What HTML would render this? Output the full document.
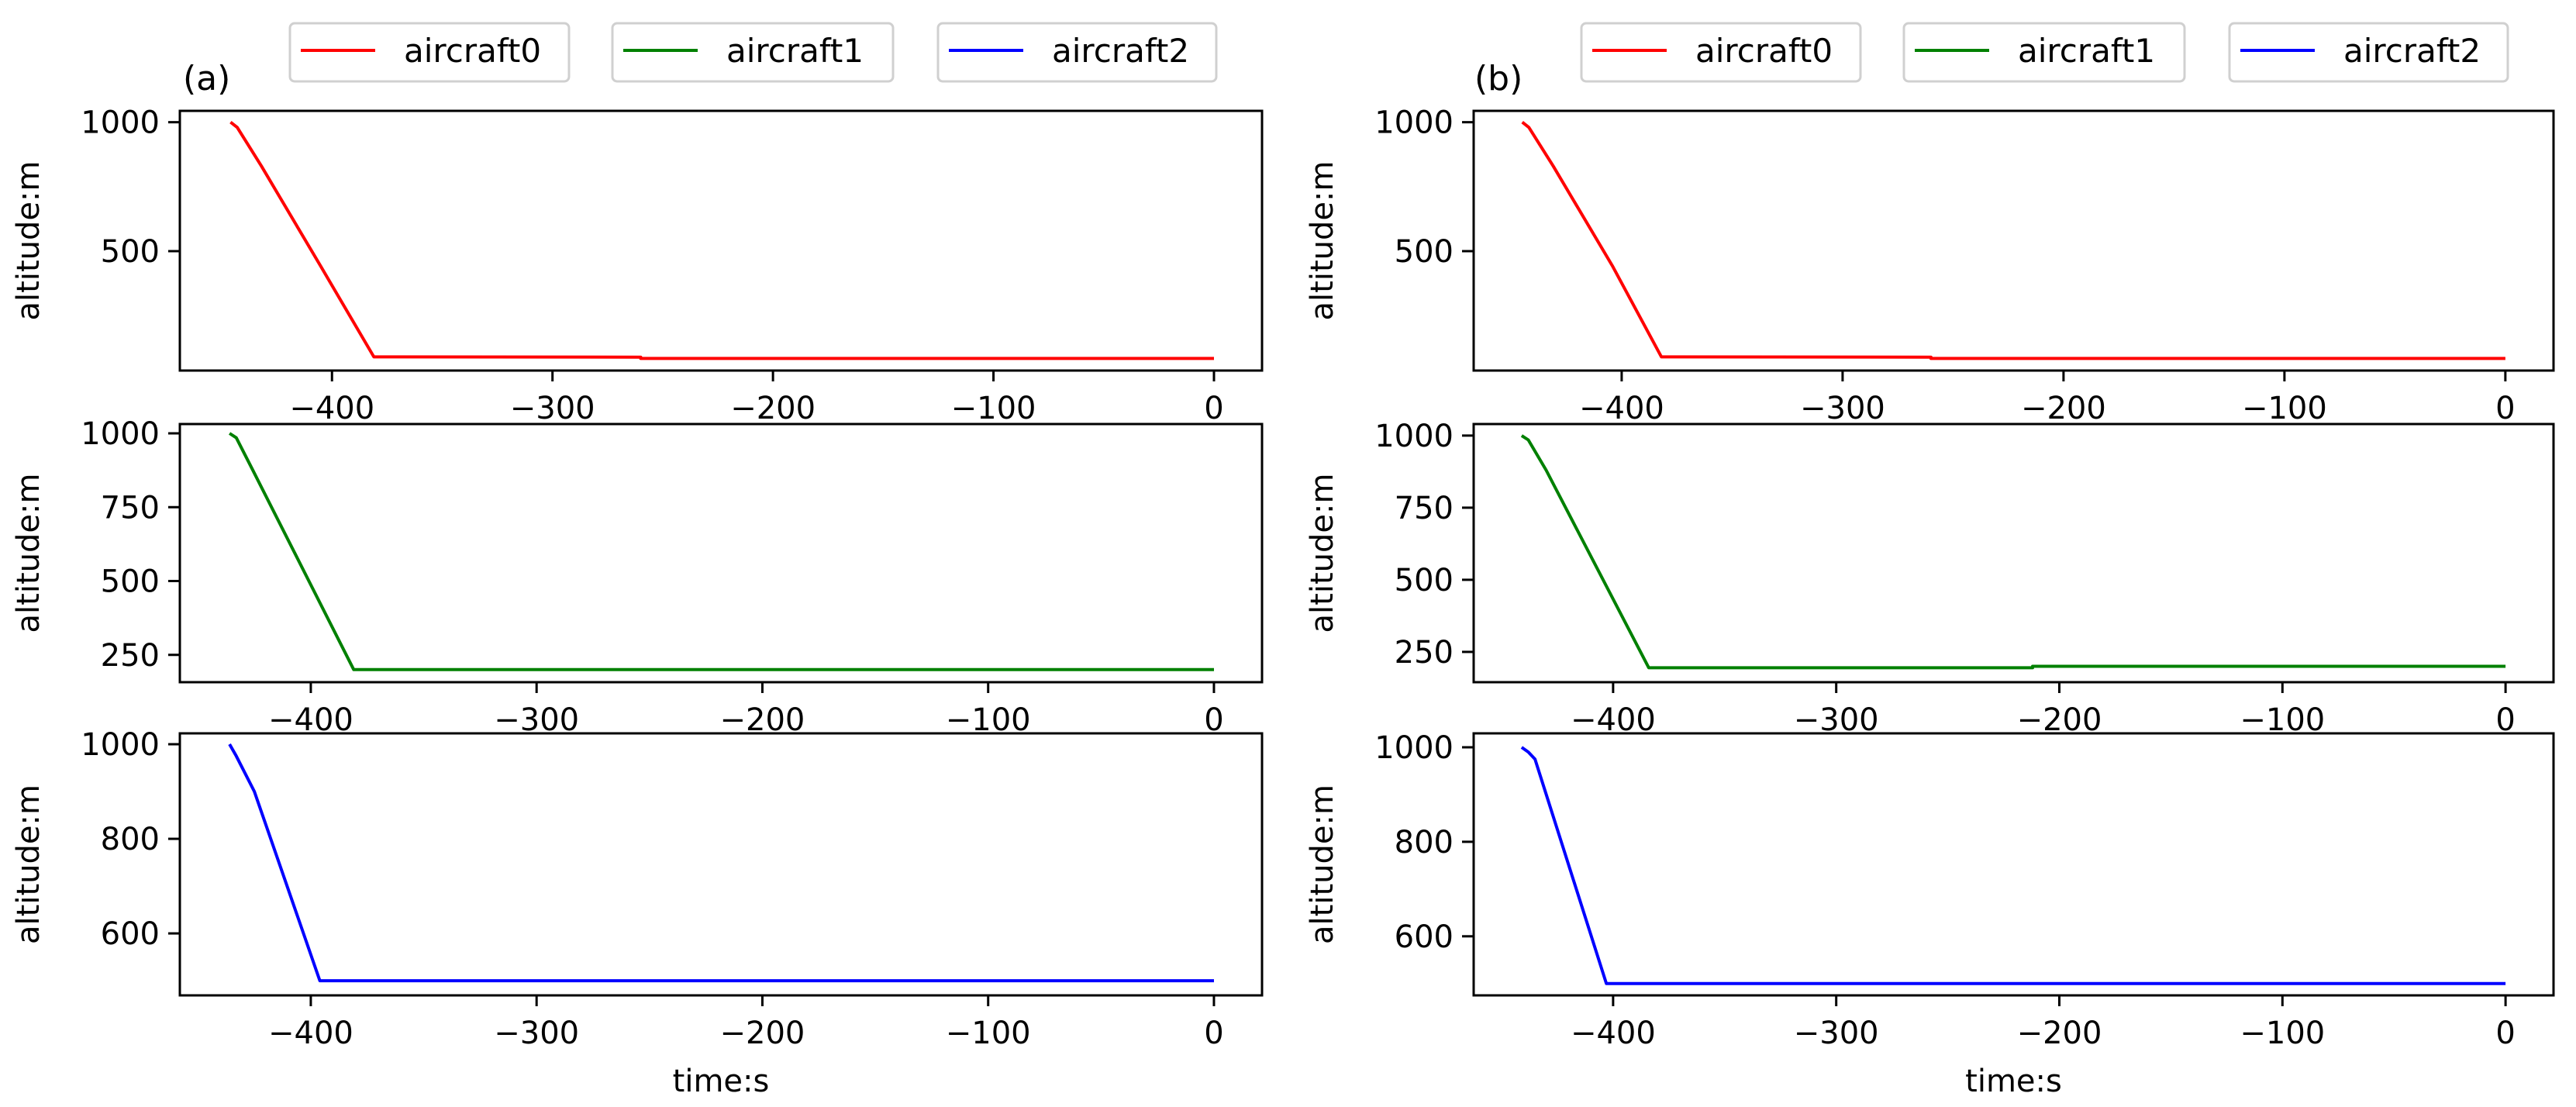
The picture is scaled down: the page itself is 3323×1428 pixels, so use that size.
<!DOCTYPE html>
<html><head><meta charset="utf-8">
<style>
html,body{margin:0;padding:0;background:#fff;}
svg{display:block;}
text{font-family:"DejaVu Sans","Liberation Sans",sans-serif;fill:#000;}
</style></head>
<body>
<svg id="chart" width="3323" height="1428" viewBox="0 0 3323 1428" xmlns="http://www.w3.org/2000/svg"></svg>
<script>
// ---- data ----
const seriesNames = ["aircraft0","aircraft1","aircraft2"];
const seriesColors = ["#ff0000","#008000","#0000ff"];
const xTicks = [-400,-300,-200,-100,0];
const yTicksTop = [500,1000];
const yTicksMid = [250,500,750,1000];
const yTicksBot = [600,800,1000];
// (a) panel series: times and altitudes
const aT0 = [-446,-443,-432,-405,-381,-260,-260,0];
const aA0 = [1000,980,830,440,90,89,84,84];
const aT1 = [-436,-433,-426,-381,0];
const aA1 = [1000,985,880,200,200];
const aT2 = [-436,-433,-425,-396,0];
const aA2 = [1000,975,900,500,500];
// (b) panel series
const bT0 = [-445,-442,-431,-404,-382,-260,-260,0];
const bA0 = [1000,980,830,440,90,89,84,84];
const bT1 = [-441,-438,-430,-384,-212,-212,0];
const bA1 = [1000,985,880,195,195,200,200];
const bT2 = [-441,-438,-435,-403,0];
const bA2 = [1000,990,975,500,500];

const NS="http://www.w3.org/2000/svg";
const svg=document.getElementById('chart');
function mk(tag,attrs,parent){const e=document.createElementNS(NS,tag);for(const k in attrs)e.setAttribute(k,attrs[k]);(parent||svg).appendChild(e);return e;}

function panel(name,box,xd,yd,yticks,T,A,color,showXlabel){
  const g=mk('g',{});
  
  
  const sx=v=>box.x0+(v-xd[0])/(xd[1]-xd[0])*(box.x1-box.x0);
  const sy=v=>box.y1-(v-yd[0])/(yd[1]-yd[0])*(box.y1-box.y0);
  const pts=T.map((t,i)=>sx(t).toFixed(1)+','+sy(A[i]).toFixed(1)).join(' ');
  const pl=mk('polyline',{points:pts,fill:'none',stroke:color,'stroke-width':4,'stroke-linejoin':'round'},g);
  
  
  const fr=mk('rect',{x:box.x0,y:box.y0,width:box.x1-box.x0,height:box.y1-box.y0,fill:'none',stroke:'#000','stroke-width':3},g);
  
  
  xTicks.forEach(v=>{
    const x=sx(v);
    mk('line',{x1:x,y1:box.y1,x2:x,y2:box.y1+14,stroke:'#000','stroke-width':3},g);
    const t=mk('text',{x:x,y:box.y1+62,'font-size':40,'text-anchor':'middle'},g);
    t.textContent=(v<0?'\u2212':'')+Math.abs(v);
    
    
  });
  yticks.forEach(v=>{
    const y=sy(v);
    mk('line',{x1:box.x0-15,y1:y,x2:box.x0,y2:y,stroke:'#000','stroke-width':3},g);
    const t=mk('text',{x:box.x0-26,y:y+14,'font-size':40,'text-anchor':'end'},g);
    t.textContent=v;
    
    
  });
  const cy=(box.y0+box.y1)/2, lx=box.x0-182;
  const yl=mk('text',{x:lx,y:cy,'font-size':40,'text-anchor':'middle',transform:'rotate(-90 '+lx+' '+cy+')'},g);
  yl.textContent='altitude:m';
  
  
  if(showXlabel){
    const xl=mk('text',{x:(box.x0+box.x1)/2,y:1408,'font-size':40,'text-anchor':'middle'},g);
    xl.textContent='time:s';
    
    
  }
}

const L={x0:232,x1:1628}, R={x0:1901,x1:3294};
const r1={y0:143,y1:478}, r2={y0:547,y1:880}, r3={y0:946,y1:1284};
panel('panel-a-aircraft0',{...L,...r1},[-469,21.8],[37,1044],yTicksTop,aT0,aA0,seriesColors[0],false);
panel('panel-a-aircraft1',{...L,...r2},[-458,21.3],[157.5,1031.5],yTicksMid,aT1,aA1,seriesColors[1],false);
panel('panel-a-aircraft2',{...L,...r3},[-458,21.3],[469,1023],yTicksBot,aT2,aA2,seriesColors[2],true);
panel('panel-b-aircraft0',{...R,...r1},[-467,21.8],[37,1044],yTicksTop,bT0,bA0,seriesColors[0],false);
panel('panel-b-aircraft1',{...R,...r2},[-462.5,21.5],[145,1040],yTicksMid,bT1,bA1,seriesColors[1],false);
panel('panel-b-aircraft2',{...R,...r3},[-462.5,21.5],[475,1029.5],yTicksBot,bT2,bA2,seriesColors[2],true);

function legend(prefix,offsetX){
  const boxes=[[374,734],[790,1152],[1210,1569]];
  boxes.forEach((b,i)=>{
    const g=mk('g',{});
    
    
    mk('rect',{x:b[0]+offsetX,y:30,width:b[1]-b[0],height:75,rx:6,fill:'#fff',stroke:'#d0d0d0','stroke-width':3},g);
    mk('line',{x1:b[0]+offsetX+14,y1:65,x2:b[0]+offsetX+110,y2:65,stroke:seriesColors[i],'stroke-width':4},g);
    const t=mk('text',{x:b[0]+offsetX+147,y:80,'font-size':42},g);
    t.textContent=seriesNames[i];
  });
}
legend('a',0);
legend('b',1666);
const la=mk('text',{x:236,y:116,'font-size':44});
la.textContent='(a)';


const lb=mk('text',{x:1902,y:116,'font-size':44});
lb.textContent='(b)';


</script>
</body></html>
